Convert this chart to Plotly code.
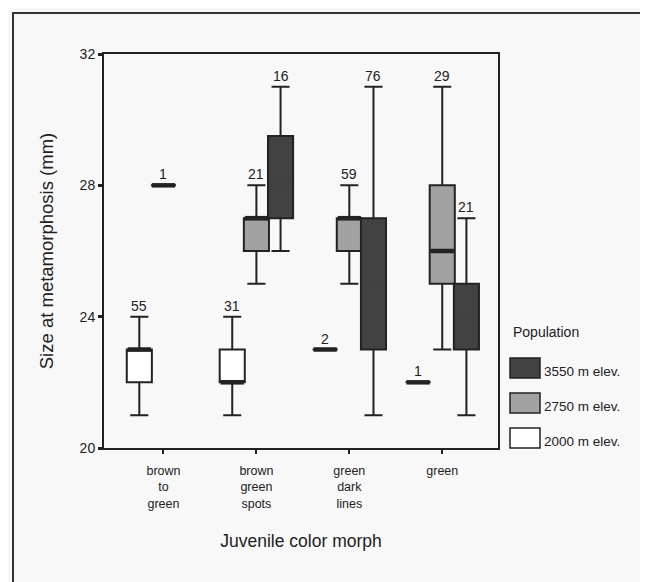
import plotly.graph_objects as go

# ---------------- data ----------------
categories = ["brown<br>to<br>green", "brown<br>green<br>spots", "green<br>dark<br>lines", "green"]
populations = ["3550 m elev.", "2750 m elev.", "2000 m elev."]

# 2000 m elev.
n_2000 = [55, 31, 2, 1]
min_2000 = [21, 21, 23, 22]
q1_2000 = [22, 22, 23, 22]
med_2000 = [23, 22, 23, 22]
q3_2000 = [23, 23, 23, 22]
max_2000 = [24, 24, 23, 22]

# 2750 m elev.
n_2750 = [1, 21, 59, 29]
min_2750 = [28, 25, 25, 23]
q1_2750 = [28, 26, 26, 25]
med_2750 = [28, 27, 27, 26]
q3_2750 = [28, 27, 27, 28]
max_2750 = [28, 28, 28, 31]

# 3550 m elev.
n_3550 = [None, 16, 76, 21]
min_3550 = [None, 26, 21, 21]
q1_3550 = [None, 27, 23, 23]
med_3550 = [None, 28, 25, 24]
q3_3550 = [None, 29.5, 27, 25]
max_3550 = [None, 31, 31, 27]

y_ticks = [20, 24, 28, 32]

# ---------------- style ----------------
FONT = "Liberation Sans, Arial, sans-serif"
INK = "#222222"
BG = "#f8f8f8"
fills = {"3550 m elev.": "#424242", "2750 m elev.": "#a2a2a2", "2000 m elev.": "#ffffff"}
offsets = {"2000 m elev.": -0.26, "2750 m elev.": 0.0, "3550 m elev.": 0.26}
BOXW = 0.27

series = {
    "2000 m elev.": (n_2000, min_2000, q1_2000, med_2000, q3_2000, max_2000),
    "2750 m elev.": (n_2750, min_2750, q1_2750, med_2750, q3_2750, max_2750),
    "3550 m elev.": (n_3550, min_3550, q1_3550, med_3550, q3_3550, max_3550),
}

W, H = 648, 582
OFF = 8  # page body margin
ML, MT = 104 - OFF, 54 - OFF
PW, PH = 394, 394
MR, MB = W - ML - PW, H - MT - PH


def px(x):  # screen x -> paper
    return (x - OFF - ML) / PW


def py(y):  # screen y -> paper
    return (MT + PH - (y - OFF)) / PH


fig = go.Figure()
annotations = []
shapes = []

for pop in ["2000 m elev.", "2750 m elev.", "3550 m elev."]:
    n, mn, q1, md, q3, mx = series[pop]
    for i in range(len(categories)):
        if n[i] is None:
            continue
        xpos = i + offsets[pop]
        fig.add_trace(go.Box(
            x=[xpos], q1=[q1[i]], median=[md[i]], q3=[q3[i]],
            lowerfence=[mn[i]], upperfence=[mx[i]],
            width=BOXW, whiskerwidth=0.72,
            fillcolor=fills[pop], line=dict(color=INK, width=2),
            showlegend=False, hoverinfo="skip", boxpoints=False,
        ))
        # SPSS-style thick median bar (black; invisible on the dark fill)
        dark = pop == "3550 m elev."
        fig.add_trace(go.Scatter(
            x=[xpos - BOXW / 2 + 0.01, xpos + BOXW / 2 - 0.01], y=[md[i], md[i]],
            mode="lines", line=dict(color=fills[pop] if dark else INK, width=3 if dark else 4.5),
            showlegend=False, hoverinfo="skip",
        ))
        annotations.append(dict(
            x=xpos, y=mx[i], xref="x", yref="y", text=str(n[i]),
            showarrow=False, yshift=11, font=dict(family=FONT, size=14, color=INK),
        ))

# manual legend
annotations.append(dict(x=px(511), y=py(332), xref="paper", yref="paper", text="Population",
                        showarrow=False, xanchor="left", yanchor="middle",
                        font=dict(family=FONT, size=14, color=INK)))
leg_y = [368, 403, 438]
for pop, yc in zip(populations, leg_y):
    shapes.append(dict(type="rect", xref="paper", yref="paper",
                       x0=px(510), x1=px(540), y0=py(yc + 10), y1=py(yc - 10),
                       fillcolor=fills[pop], line=dict(color=INK, width=1.5)))
    annotations.append(dict(x=px(542), y=py(yc + 3), xref="paper", yref="paper", text=pop,
                            showarrow=False, xanchor="left", yanchor="middle",
                            font=dict(family=FONT, size=13.5, color=INK)))

# outer frame of the scanned figure
shapes.append(dict(type="rect", xref="paper", yref="paper",
                   x0=px(13), x1=px(720), y0=py(660), y1=py(13),
                   line=dict(color="#333333", width=2), fillcolor="rgba(0,0,0,0)", layer="below"))

fig.update_layout(
    width=W, height=H,
    margin=dict(l=ML, r=MR, t=MT, b=MB, autoexpand=False),
    paper_bgcolor=BG, plot_bgcolor=BG,
    boxmode="overlay",
    font=dict(family=FONT, color=INK),
    annotations=annotations, shapes=shapes,
    showlegend=False,
)
fig.update_xaxes(
    range=[-0.64, 3.6], tickmode="array", tickvals=list(range(len(categories))),
    ticktext=categories, tickfont=dict(family=FONT, size=12.5, color=INK),
    ticks="outside", ticklen=4, tickwidth=2, tickcolor=INK,
    showline=True, linecolor=INK, linewidth=2, mirror=True, showgrid=False, zeroline=False,
    ticklabelstandoff=6,
    title=dict(text="Juvenile color morph", font=dict(family=FONT, size=17.5, color=INK), standoff=25),
)
fig.update_yaxes(
    range=[20, 32], tickmode="array", tickvals=y_ticks,
    tickfont=dict(family=FONT, size=14, color=INK),
    ticks="outside", ticklen=4, tickwidth=3, tickcolor=INK,
    showline=True, linecolor=INK, linewidth=2, mirror=True, showgrid=False, zeroline=False,
    title=dict(text="Size at metamorphosis (mm)", font=dict(family=FONT, size=18.5, color=INK), standoff=21),
)

fig.write_html("out.html")
